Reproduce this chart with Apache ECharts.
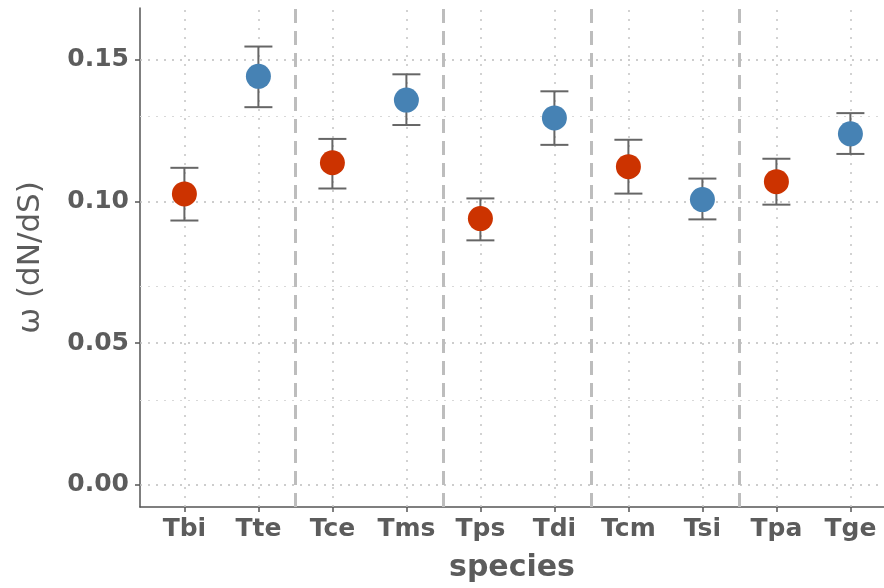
<!DOCTYPE html>
<html>
<head>
<meta charset="utf-8">
<script src="https://cdn.jsdelivr.net/npm/echarts@6/dist/echarts.min.js"></script>
<style>
  html, body { margin: 0; padding: 0; background: #fff; }
  #main { width: 884px; height: 588px; }
</style>
</head>
<body>
<div id="main"></div>
<script>
// species on the x axis
var species = ['Tbi', 'Tte', 'Tce', 'Tms', 'Tps', 'Tdi', 'Tcm', 'Tsi', 'Tpa', 'Tge'];
// omega estimates and their interval
var omega = [0.1027, 0.1442, 0.1137, 0.1358, 0.0940, 0.1295, 0.1123, 0.1007, 0.1070, 0.1239];
var lower = [0.0933, 0.1333, 0.1046, 0.1270, 0.0863, 0.1200, 0.1028, 0.0937, 0.0989, 0.1168];
var upper = [0.1119, 0.1547, 0.1221, 0.1449, 0.1011, 0.1389, 0.1218, 0.1081, 0.1151, 0.1312];
// which group each species belongs to
var group = ['a', 'b', 'a', 'b', 'a', 'b', 'a', 'b', 'a', 'b'];
// group separators (between pairs)
var separators = [1.5, 3.5, 5.5, 7.5];
var yTicks = [0, 0.05, 0.10, 0.15];
var yMinor = [0.025, 0.075, 0.125];

var colors = { a: '#CC3300', b: '#4682B4' };
var textColor = '#5c5c5c';

var myChart = echarts.init(document.getElementById('main'));

var idx = species.map(function (s, i) { return i; });

var option = {
    animation: false,
    grid: {
        left: 140,
        top: 8,
        right: 0,
        height: 501,
        show: false
    },
    xAxis: {
        type: 'value',
        min: -0.6,
        max: 9.454,   // right side of the panel is cut off in the picture
        name: 'species',
        nameLocation: 'middle',
        nameGap: 46,
        nameTextStyle: { fontSize: 30, fontWeight: 'bold', color: textColor, fontFamily: 'DejaVu Sans' },
        axisLine: { show: true, onZero: false, lineStyle: { color: '#555', width: 1.5 } },
        axisTick: { show: true, customValues: idx, length: 5, lineStyle: { color: '#555', width: 1.5 } },
        axisLabel: {
            customValues: idx,
            formatter: function (v) { return species[Math.round(v)]; },
            fontSize: 25, fontWeight: 'bold', color: textColor, fontFamily: 'DejaVu Sans', margin: 10
        },
        splitLine: { show: false }
    },
    yAxis: {
        type: 'value',
        min: -0.0078,
        max: 0.1683,
        name: 'ω (dN/dS)',
        nameLocation: 'middle',
        nameGap: 94,
        nameTextStyle: { fontSize: 31, color: textColor, fontFamily: 'DejaVu Sans' },
        axisLine: { show: true, onZero: false, lineStyle: { color: '#555', width: 1.5 } },
        axisTick: { show: true, customValues: yTicks, length: 5, lineStyle: { color: '#555', width: 1.5 } },
        axisLabel: {
            customValues: yTicks,
            formatter: function (v) { return v.toFixed(2); },
            fontSize: 25, fontWeight: 'bold', color: textColor, fontFamily: 'DejaVu Sans', margin: 11
        },
        splitLine: { show: false }
    },
    series: [{
        // grid lines and separators
        type: 'line',
        data: [],
        silent: true,
        z: 1,
        markLine: {
            symbol: 'none',
            silent: true,
            z: 1,
            label: { show: false },
            animation: false,
            data: [].concat(
                yTicks.map(function (v) { return { yAxis: v, lineStyle: { color: '#bdbdbd', type: [2, 6], width: 1.5 } }; }),
                yMinor.map(function (v) { return { yAxis: v, lineStyle: { color: '#d8d8d8', type: [2, 6], width: 1 } }; }),
                idx.map(function (v) { return { xAxis: v, lineStyle: { color: '#c4c4c4', type: [2, 7], width: 1.5 } }; }),
                separators.map(function (v) { return { xAxis: v, lineStyle: { color: '#bdbdbd', type: [14, 8], width: 3 } }; }),
                [{ yAxis: 0.1683, lineStyle: { color: '#d0d0d0', type: 'solid', width: 1 } }]
            )
        }
    }, {
        type: 'custom',
        data: idx.map(function (i) { return [i, lower[i], upper[i]]; }),
        renderItem: function (params, api) {
            var lo = api.coord([api.value(0), api.value(1)]);
            var hi = api.coord([api.value(0), api.value(2)]);
            var w = 14;
            var st = { stroke: '#666', lineWidth: 2 };
            return {
                type: 'group',
                children: [
                    { type: 'line', shape: { x1: lo[0], y1: lo[1], x2: hi[0], y2: hi[1] }, style: st },
                    { type: 'line', shape: { x1: lo[0] - w, y1: lo[1], x2: lo[0] + w, y2: lo[1] }, style: st },
                    { type: 'line', shape: { x1: hi[0] - w, y1: hi[1], x2: hi[0] + w, y2: hi[1] }, style: st }
                ]
            };
        },
        z: 9
    }, {
        type: 'scatter',
        symbolSize: 25,
        data: idx.map(function (i) {
            return { value: [i, omega[i]], itemStyle: { color: colors[group[i]], opacity: 1 } };
        }),
        z: 10
    }]
};

if (option && typeof option === 'object') {
    myChart.setOption(option, true);
}
</script>
</body>
</html>
